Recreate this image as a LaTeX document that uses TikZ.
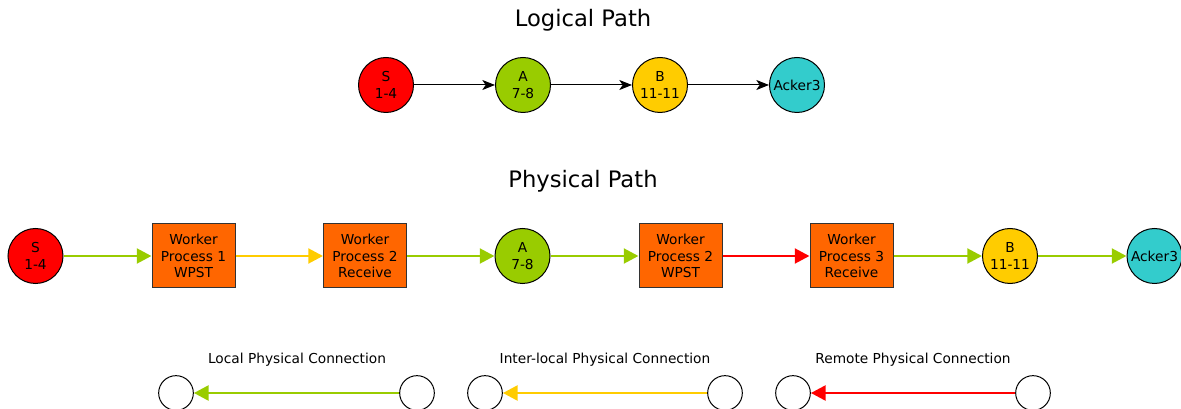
\documentclass[tikz,border=0pt]{standalone}
\usepackage{fontspec}
\setmainfont{DejaVu Sans}
\usetikzlibrary{arrows.meta}
\definecolor{cred}{HTML}{FF0000}
\definecolor{cgreen}{HTML}{99CC00}
\definecolor{cyellow}{HTML}{FFCC00}
\definecolor{ccyan}{HTML}{33CCCC}
\definecolor{corange}{HTML}{FF6600}
\tikzset{
  op/.style={circle, draw=black, line width=0.75pt, minimum size=41.25pt, inner sep=0pt,
    align=center, font=\fontsize{10.3}{12.3}\selectfont},
  worker/.style={rectangle, draw=black!80, line width=0.75pt, fill=corange,
    minimum width=62.25pt, minimum height=48pt, inner sep=0pt, align=center,
    font=\fontsize{10.3}{12.3}\selectfont},
  legcirc/.style={circle, draw=black, line width=0.75pt, fill=white, minimum size=26pt, inner sep=0pt},
  logic/.style={draw=black, line width=0.75pt, -{Stealth[length=9.5pt, width=7.5pt, inset=2.5pt]}},
  phys/.style={draw=#1, line width=2.2pt, -{Triangle[length=11pt, width=11pt]}},
  title/.style={font=\fontsize{17}{20}\selectfont},
  legtext/.style={font=\fontsize{10.3}{12.3}\selectfont}
}
\begin{document}
\begin{tikzpicture}[x=0.75pt, y=-0.75pt]
\useasboundingbox (0,0) rectangle (1181,409);

% logical path
\node[title] (ltitle) at (583,20) {Logical Path};
\node[op, fill=cred]    (ls) at (386,85) {S\\1-4};
\node[op, fill=cgreen]  (la) at (523,85) {A\\7-8};
\node[op, fill=cyellow] (lb) at (660,85) {B\\11-11};
\node[op, fill=ccyan]   (lk) at (797,85) {Acker3};
\draw[logic] (ls) -- (la);
\draw[logic] (la) -- (lb);
\draw[logic] (lb) -- (lk);

% physical path
\node[title] (ptitle) at (583,181) {Physical Path};
\node[op, fill=cred]    (ps) at (35.5,256) {S\\1-4};
\node[worker] (w1) at (193.5,256) {Worker\\Process 1\\WPST};
\node[worker] (w2) at (365,256) {Worker\\Process 2\\Receive};
\node[op, fill=cgreen]  (pa) at (522.5,256) {A\\7-8};
\node[worker] (w3) at (680.5,256) {Worker\\Process 2\\WPST};
\node[worker] (w4) at (851.5,256) {Worker\\Process 3\\Receive};
\node[op, fill=cyellow] (pb) at (1010,256) {B\\11-11};
\node[op, fill=ccyan]   (pk) at (1154.5,256) {Acker3};
\draw[phys=cgreen]  (ps) -- (w1);
\draw[phys=cyellow] (w1) -- (w2);
\draw[phys=cgreen]  (w2) -- (pa);
\draw[phys=cgreen]  (pa) -- (w3);
\draw[phys=cred]    (w3) -- (w4);
\draw[phys=cgreen]  (w4) -- (pb);
\draw[phys=cgreen]  (pb) -- (pk);

% legend
\node[legtext] (t1) at (297,360) {Local Physical Connection};
\node[legcirc] (l1a) at (176,393) {};
\node[legcirc] (l1b) at (417,393) {};
\draw[phys=cgreen] (l1b) -- (l1a);

\node[legtext] (t2) at (605,360) {Inter-local Physical Connection};
\node[legcirc] (l2a) at (485,393) {};
\node[legcirc] (l2b) at (725,393) {};
\draw[phys=cyellow] (l2b) -- (l2a);

\node[legtext] (t3) at (913,360) {Remote Physical Connection};
\node[legcirc] (l3a) at (793,393) {};
\node[legcirc] (l3b) at (1033,393) {};
\draw[phys=cred] (l3b) -- (l3a);
\end{tikzpicture}
\end{document}
